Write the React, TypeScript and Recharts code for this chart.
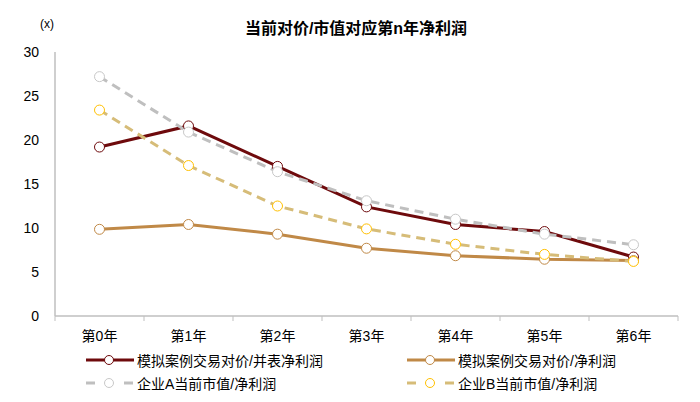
import React from "react";
import { LineChart, Line, XAxis, YAxis } from "recharts";

const categories = ["第0年", "第1年", "第2年", "第3年", "第4年", "第5年", "第6年"];
const dealConsolidated = [19.2, 21.6, 17.0, 12.4, 10.4, 9.6, 6.7];
const dealNet = [9.85, 10.4, 9.3, 7.7, 6.85, 6.45, 6.3];
const companyA = [27.2, 20.9, 16.4, 13.1, 11.0, 9.3, 8.1];
const companyB = [23.4, 17.1, 12.5, 9.9, 8.15, 7.0, 6.2];
const yTicks = [0, 5, 10, 15, 20, 25, 30];

const data = categories.map((name, i) => ({
  x: i + 0.5,
  name,
  dealConsolidated: dealConsolidated[i],
  dealNet: dealNet[i],
  companyA: companyA[i],
  companyB: companyB[i],
}));
const xTicks = categories.map((_, i) => i).concat(categories.length);

const W = 700;
const H = 402;
const LEFT = 55;
const RIGHT = 22;
const band = (W - LEFT - RIGHT) / categories.length;

const FONT = '"Liberation Sans", Arial, "Noto Sans CJK SC", sans-serif';
const MAROON = "#6E0A0C";
const BROWN = "#C08947";
const GRAY = "#BFBFBF";
const KHAKI = "#D6BC78";
const GOLD = "#FFC000";

const series = [
  { key: "dealConsolidated", name: "模拟案例交易对价/并表净利润", color: MAROON, dot: MAROON, dash: undefined },
  { key: "dealNet", name: "模拟案例交易对价/净利润", color: BROWN, dot: BROWN, dash: undefined },
  { key: "companyA", name: "企业A当前市值/净利润", color: GRAY, dot: "#C8C8C8", dash: "9 6" },
  { key: "companyB", name: "企业B当前市值/净利润", color: KHAKI, dot: GOLD, dash: "9 6" },
];

const XTick = (props: any) => {
  const { x, y, payload } = props;
  const label = categories[payload.value];
  if (!label) return null;
  return (
    <text x={x + band / 2} y={y} dy={18} textAnchor="middle" fontSize={14} fill="#000" fontFamily={FONT}>
      {label}
    </text>
  );
};

const Swatch = ({ color, dot, dash }: { color: string; dot: string; dash?: string }) => (
  <svg width={48} height={12} style={{ display: "block" }}>
    {dash ? (
      <>
        <line x1={0} x2={9} y1={6} y2={6} stroke={color} strokeWidth={3} />
        <line x1={38} x2={47} y1={6} y2={6} stroke={color} strokeWidth={3} />
      </>
    ) : (
      <line x1={0} x2={48} y1={6} y2={6} stroke={color} strokeWidth={3} />
    )}
    <circle cx={23} cy={6} r={4.5} fill="#fff" stroke={dot} strokeWidth={1} />
  </svg>
);

export default function App() {
  const legendPos = [
    { left: 86, top: 360 },
    { left: 407, top: 360 },
    { left: 86, top: 383 },
    { left: 407, top: 383 },
  ];
  return (
    <div style={{ position: "absolute", left: 0, top: 0, width: W, height: H, background: "#fff", fontFamily: FONT }}>
      <div style={{ position: "absolute", left: 0, width: W, top: 15, textAlign: "center", fontSize: 16, fontWeight: "bold", color: "#000" }}>
        <span style={{ marginLeft: 12 }}>当前对价/市值对应第n年净利润</span>
      </div>
      <div style={{ position: "absolute", left: 40, top: 17, fontSize: 12, color: "#000" }}>(x)</div>
      <LineChart width={W} height={H} data={data} margin={{ top: 52, right: RIGHT, left: 0, bottom: 56 }}>
        <XAxis
          dataKey="x"
          type="number"
          domain={[0, categories.length]}
          ticks={xTicks}
          interval={0}
          height={30}
          axisLine={{ stroke: GRAY, strokeWidth: 1.5 }}
          tickLine={{ stroke: GRAY }}
          tickSize={5}
          tick={<XTick />}
        />
        <YAxis
          domain={[0, 30]}
          ticks={yTicks}
          width={LEFT}
          axisLine={{ stroke: GRAY, strokeWidth: 1.5 }}
          tickLine={false}
          tickMargin={10}
          tick={{ fontSize: 14, fill: "#000", fontFamily: FONT }}
        />
        {series.map((s) => (
          <Line
            key={s.key}
            dataKey={s.key}
            name={s.name}
            type="linear"
            stroke={s.color}
            strokeWidth={3}
            strokeDasharray={s.dash}
            dot={{ r: 5, fill: "#fff", stroke: s.dot, strokeWidth: 1, strokeDasharray: "0" }}
            isAnimationActive={false}
          />
        ))}
      </LineChart>
      {series.map((s, i) => (
        <div
          key={s.key}
          style={{ position: "absolute", left: legendPos[i].left, top: legendPos[i].top - 9, display: "flex", alignItems: "center", height: 18, fontSize: 14, color: "#000", whiteSpace: "nowrap" }}
        >
          <Swatch color={s.color} dot={s.dot} dash={s.dash} />
          <span style={{ marginLeft: 3 }}>{s.name}</span>
        </div>
      ))}
    </div>
  );
}
